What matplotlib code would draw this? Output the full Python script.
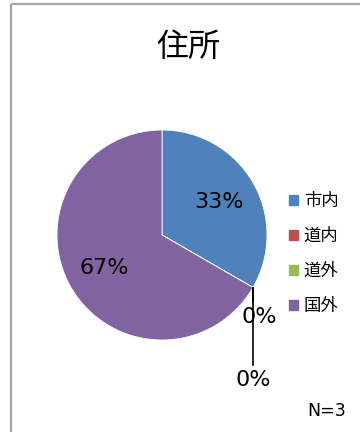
import matplotlib
matplotlib.use("Agg")
import matplotlib.pyplot as plt
import numpy as np
from matplotlib.patches import Rectangle

plt.rcParams["font.family"] = ["Noto Sans CJK JP", "DejaVu Sans"]

TITLE = "住所"
CATEGORIES = ["市内", "道内", "道外", "国外"]
COUNTS = [1, 0, 0, 2]
N_TOTAL = 3
COLORS = ["#4F81BD", "#C0504D", "#9BBB59", "#8064A2"]

W, H = 360, 432
fig = plt.figure(figsize=(W / 100, H / 100), dpi=100)

# overlay axes in pixel units for the frame, title and footnote
page = fig.add_axes([0, 0, 1, 1])
page.set_xlim(0, W)
page.set_ylim(H, 0)
page.axis("off")
page.add_patch(Rectangle((11, 4), W, H, fill=False, edgecolor="#A6A6A6", lw=1.6))
page.text(188, 47, TITLE, ha="center", va="center", fontsize=23)
page.text(327, 411, f"N={N_TOTAL}", ha="center", va="center", fontsize=12.5,
          family="DejaVu Sans")

# pie placed by centre/radius in pixels
cx, cy, r = 162, 235, 105
ax = fig.add_axes([(cx - r) / W, (H - cy - r) / H, 2 * r / W, 2 * r / H])
wedges, _ = ax.pie(COUNTS, colors=COLORS, startangle=90, counterclock=False,
                   wedgeprops=dict(linewidth=0.6, edgecolor="white"))
ax.set_xlim(-1, 1)
ax.set_ylim(-1, 1)

shares = np.array(COUNTS) / sum(COUNTS)
# zero slices get leader lines hanging below their boundary point
zero_drop = [0.28, 0.88]
zero_dx = [0.06, 0.0]
zi = 0
for w, s in zip(wedges, shares):
    lab = f"{s:.0%}"
    if s > 0:
        mid = np.deg2rad((w.theta1 + w.theta2) / 2)
        ax.text(0.63 * np.cos(mid), 0.63 * np.sin(mid), lab,
                ha="center", va="center", fontsize=16, family="DejaVu Sans")
    else:
        a = np.deg2rad(w.theta1)
        px, py = np.cos(a), np.sin(a)
        ty = py - zero_drop[zi]
        ax.plot([px, px], [py, ty + 0.14], color="black", lw=1.2, clip_on=False)
        ax.text(px + zero_dx[zi], ty, lab, ha="center", va="center",
                fontsize=16, family="DejaVu Sans", clip_on=False)
        zi += 1

handles = [Rectangle((0, 0), 1, 1, color=c) for c in COLORS]
fig.legend(handles, CATEGORIES, loc="upper left",
           bbox_to_anchor=(289 / W, 1 - 192 / H), frameon=False,
           fontsize=12.5, labelspacing=0.98, handlelength=0.5, handleheight=0.5,
           handletextpad=0.35, borderpad=0, borderaxespad=0)

fig.savefig("out.png", dpi=100, facecolor="white")
